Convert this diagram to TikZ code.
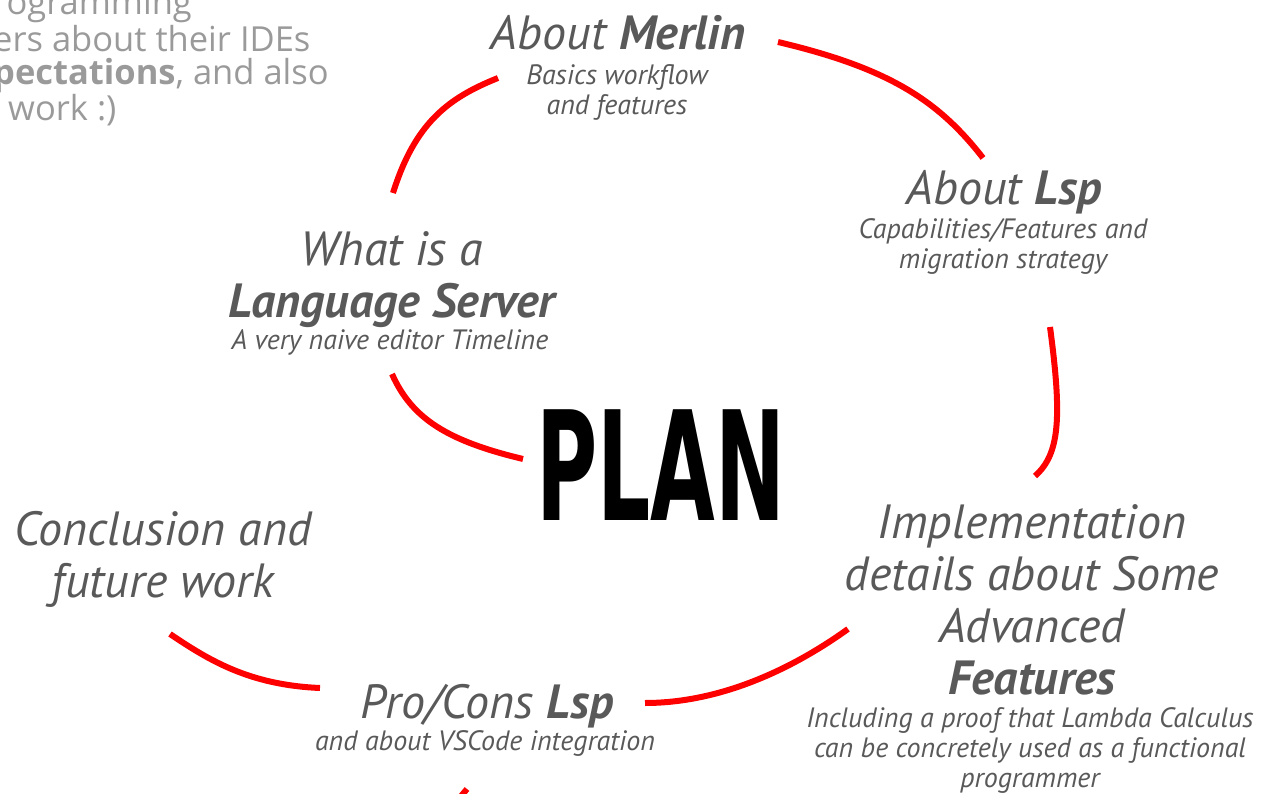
\documentclass[tikz,border=0pt]{standalone}
\usepackage{fontspec}
\setmainfont{PT Sans}
\newfontfamily\notesfont{Open Sans}
\newfontfamily\planfont{DejaVu Sans}
\definecolor{ink}{HTML}{595959}
\definecolor{notegray}{HTML}{9A9A9A}
\definecolor{linkred}{HTML}{FF0000}

\begin{document}
\begin{tikzpicture}[x=1pt, y=-1pt,
  topic/.style={text=ink, align=center, inner sep=0pt,
    font=\fontsize{48}{52}\selectfont\itshape},
  detail/.style={text=ink, align=center, inner sep=0pt,
    font=\fontsize{28}{30}\selectfont\itshape},
  notes/.style={text=notegray, align=left, inner sep=0pt,
    font=\notesfont\fontsize{34.5}{33.5}\selectfont},
  link/.style={draw=linkred, line width=6pt}]

  \path[use as bounding box, clip] (0,0) rectangle (1264,794);

  % leftover notes running off the left edge
  \node [notes, anchor=north west] (notes) at (-7,-11.5)
    {\strut rogramming\\ers about their IDEs\\\textbf{pectations}, and also\\\hspace{15pt}work :)};

  % the centre word
  \node [inner sep=0pt] (plan) at (661,465)
    {\scalebox{0.55}[1]{\planfont\bfseries\fontsize{152}{152}\selectfont PLAN}};

  % the topics, clockwise from the top
  \node [topic, anchor=base] (merlin) at (618,50) {About \textbf{Merlin}};
  \node [detail, anchor=north] (merlinsub) at (617,63)
    {\strut Basics workflow\\and features};

  \node [topic, anchor=base] (lsp) at (1004,205) {About \textbf{Lsp}};
  \node [detail, anchor=north] (lspsub) at (1003,217)
    {\strut Capabilities/Features and\\migration strategy};

  \node [topic, anchor=north] (impl) at (1032,501.6)
    {\strut Implementation\\details about Some\\Advanced\\\textbf{Features}};
  \node [detail, anchor=north] (implsub) at (1030,706)
    {\strut Including a proof that Lambda Calculus\\can be concretely used as a functional\\programmer};

  \node [topic, anchor=base] (procons) at (487,718) {Pro/Cons \textbf{Lsp}};
  \node [detail, anchor=base] (proconssub) at (485,750)
    {and about VSCode integration};

  \node [topic, anchor=north] (concl) at (163,508.6)
    {\strut Conclusion and\\future work};

  \node [topic, anchor=north] (what) at (392,228.6)
    {\strut What is a\\\textbf{Language Server}};
  \node [detail, anchor=base] (whatsub) at (390,350)
    {A very naive editor Timeline};

  % red threads between the topics
  \draw [link] ([shift={(1,-35.6)}]what.north)
    .. controls +(22,-70) and +(-50,20) .. ([shift={(-120,28)}]merlin.base);
  \draw [link] ([shift={(160,-8)}]merlin.base)
    .. controls +(110,26) and +(-45,-58) .. ([shift={(-21,-47)}]lsp.base);
  \draw [link] ([shift={(47,110)}]lspsub.north)
    .. controls +(12,90) and +(25,-22) .. ([shift={(3,-25.6)}]impl.north);
  \draw [link] ([shift={(-184,127.4)}]impl.north)
    .. controls +(-50,36) and +(80,0) .. ([shift={(158,-15)}]procons.base);
  \draw [link] ([shift={(-167,-30)}]procons.base)
    .. controls +(-70,-3) and +(40,27) .. ([shift={(7,125.4)}]concl.north);
  \draw [link] ([shift={(2,24)}]whatsub.base)
    .. controls +(20,45) and +(-75,-18) .. ([shift={(-138,-6)}]plan.center);
  \draw [link] ([shift={(-18,39)}]proconssub.base) -- +(-10,12);
\end{tikzpicture}
\end{document}
